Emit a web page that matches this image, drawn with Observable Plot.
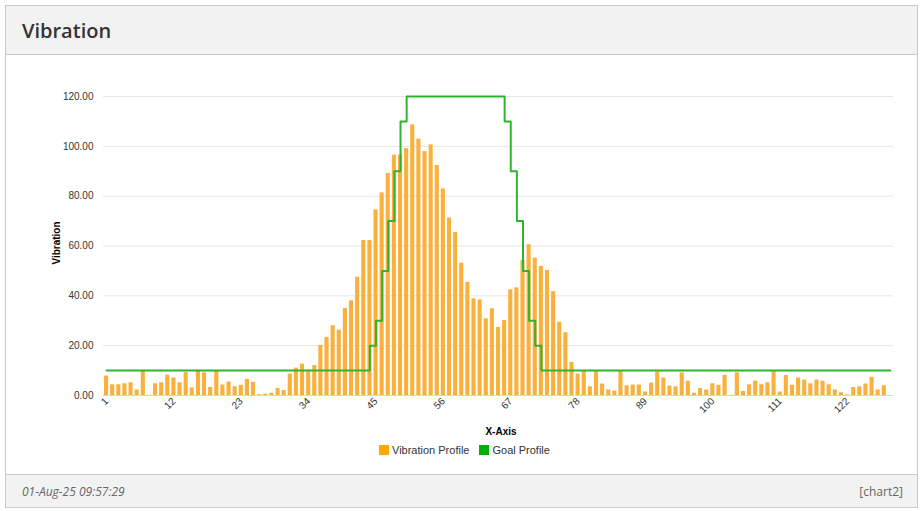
<!DOCTYPE html>
<html><head><meta charset="utf-8">
<script src="https://cdn.jsdelivr.net/npm/d3@7"></script>
<script src="https://cdn.jsdelivr.net/npm/@observablehq/plot@0.6"></script>
<style>
body{margin:0;background:#fff;font-family:"Liberation Sans",Arial,sans-serif;width:924px;height:511px;overflow:hidden;position:relative;}
#panel{position:absolute;left:5px;top:5px;width:913px;height:503px;border:1px solid #c9c9c9;box-sizing:border-box;}
#header{position:absolute;left:0;top:0;right:0;height:48px;background:#f2f2f2;border-bottom:1px solid #c9c9c9;}
#header h1{margin:0;position:absolute;left:16px;top:11px;font:600 20px "Open Sans","Noto Sans",sans-serif;color:#333;}
#footer{position:absolute;left:0;bottom:0;right:0;height:32px;background:#f2f2f2;border-top:1px solid #c9c9c9;}
#footer .d{position:absolute;left:16px;top:8px;font:italic 12px "Open Sans","Noto Sans",sans-serif;color:#666;}
#footer .c{position:absolute;right:14px;top:8px;font:12px "Open Sans","Noto Sans",sans-serif;color:#666;}
#chart{position:absolute;left:0;top:0;z-index:1;}
#xlabel{position:absolute;left:0;width:1002px;top:426px;text-align:center;font:bold 10px "Liberation Sans",Arial,sans-serif;color:#000;z-index:2;}
#legend{position:absolute;top:444px;left:379px;font:11px "Liberation Sans",Arial,sans-serif;color:#333;z-index:2;display:flex;align-items:center;}
#legend span.sw{display:inline-block;width:10px;height:10px;margin-right:3px;}
#legend span.it{display:flex;align-items:center;margin-right:10px;}
#ylabel{position:absolute;left:56px;top:243px;transform:translate(-50%,-50%) rotate(-90deg);font:bold 10px "Liberation Sans",Arial,sans-serif;color:#000;z-index:2;white-space:nowrap;}
</style>
</head><body>
<div id="panel">
  <div id="header"><h1>Vibration</h1></div>
  <div id="footer"><span class="d">01-Aug-25 09:57:29</span><span class="c">[chart2]</span></div>
</div>
<div id="chart"></div>
<div id="ylabel">Vibration</div>
<div id="xlabel">X-Axis</div>
<div id="legend">
  <span class="it"><span class="sw" style="background:#ffa500"></span>Vibration Profile</span>
  <span class="it"><span class="sw" style="background:#00b000"></span>Goal Profile</span>
</div>
<script>
// x categories (1..129; the last slot has no vibration bar)
const xCategories = d3.range(1, 130);
const xTickLabels = [1, 12, 23, 34, 45, 56, 67, 78, 89, 100, 111, 122];
const yTickValues = [0, 20, 40, 60, 80, 100, 120];

// Vibration Profile, samples 1..128
const vibration = [
  7.8, 4.3, 4.3, 4.7, 5.1, 2.2, 10.0, 0.1, 4.7, 5.1,
  8.2, 7.0, 5.1, 9.2, 3.0, 9.7, 9.1, 3.2, 10.0, 4.2,
  5.4, 3.5, 4.1, 6.5, 5.3, 0.3, 0.5, 0.9, 2.8, 2.0,
  8.6, 11.0, 12.6, 10.2, 12.0, 20.1, 23.3, 28.0, 26.2, 34.9,
  38.0, 47.5, 62.2, 62.2, 74.5, 81.3, 89.1, 96.5, 96.5, 99.1,
  108.6, 102.9, 97.9, 100.6, 92.3, 82.9, 71.2, 65.4, 53.1, 45.4,
  38.8, 38.4, 30.8, 34.8, 27.3, 30.1, 42.4, 43.2, 54.2, 60.5,
  55.1, 51.8, 50.2, 41.7, 29.4, 25.2, 13.3, 8.6, 10.0, 3.5,
  9.6, 4.6, 2.2, 1.8, 10.0, 3.9, 4.2, 4.2, 1.4, 5.0,
  9.5, 7.0, 3.8, 3.5, 9.1, 5.7, 0.9, 2.8, 2.2, 4.7,
  4.1, 8.1, 0.1, 9.1, 1.6, 4.3, 5.8, 4.3, 5.1, 9.6,
  1.4, 8.0, 4.1, 7.0, 6.2, 4.7, 6.2, 5.7, 4.3, 2.2,
  1.1, 0.3, 3.2, 3.5, 4.6, 7.3, 2.2, 3.9
];

// Goal Profile, samples 1..129
const goal = [
  10,10,10,10,10,10,10,10,10,10, 10,10,10,10,10,10,10,10,10,10,
  10,10,10,10,10,10,10,10,10,10, 10,10,10,10,10,10,10,10,10,10,
  10,10,10,20,30,50,70,90,110,120, 120,120,120,120,120,120,120,120,120,120,
  120,120,120,120,120,110,90,70,50,30, 20,10,10,10,10,10,10,10,10,10,
  10,10,10,10,10,10,10,10,10,10, 10,10,10,10,10,10,10,10,10,10,
  10,10,10,10,10,10,10,10,10,10, 10,10,10,10,10,10,10,10,10,10,
  10,10,10,10,10,10,10,10,10
];

const vibData = vibration.map((v, i) => ({x: xCategories[i], v}));
const goalData = goal.map((g, i) => ({x: xCategories[i], g}));

const chart = Plot.plot({
  width: 924, height: 475,
  marginTop: 96, marginBottom: 80, marginLeft: 103, marginRight: 31,
  style: {background: "transparent", fontFamily: "'Liberation Sans', Arial, sans-serif", fontSize: "10px", color: "#333", overflow: "visible"},
  x: {type: "band", domain: xCategories, paddingInner: 0.33, paddingOuter: 0.165, round: false, label: null},
  y: {domain: [0, 120], label: null},
  marks: [
    Plot.gridY(yTickValues, {stroke: "#e6e6e6", strokeOpacity: 1}),
    Plot.ruleY([0], {stroke: "#ccd6eb"}),
    Plot.barY(vibData, {x: "x", y: "v", fill: "#fbb03b"}),
    Plot.lineY(goalData, {x: "x", y: "g", stroke: "#2db52d", strokeWidth: 2, curve: "step-after"}),
    Plot.axisY(yTickValues, {tickSize: 0, tickPadding: 10, tickFormat: d3.format(".2f"), label: null}),
    Plot.axisX(xTickLabels, {tickSize: 0, tickRotate: -45, tickPadding: 4, label: null})
  ]
});
document.getElementById("chart").appendChild(chart);
</script>
</body></html>
